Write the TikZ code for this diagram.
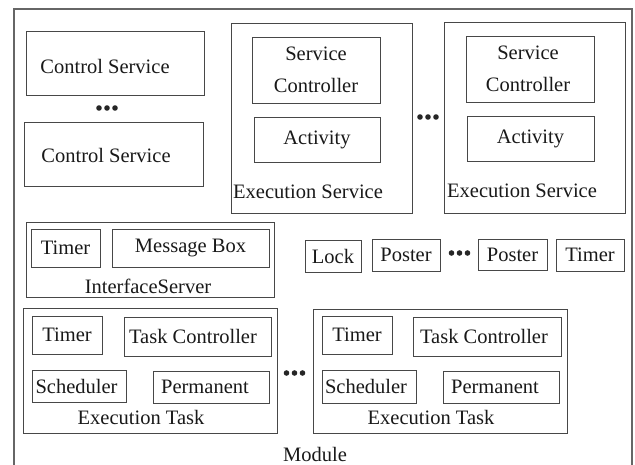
\documentclass[tikz,border=0pt]{standalone}
\usepackage{fontspec}
\setmainfont{Liberation Serif}
\begin{document}
\begin{tikzpicture}[x=1pt,y=-1pt,
  box/.style={draw=black!72, line width=0.9pt, inner sep=0pt, font=\fontsize{20.5}{32}\selectfont, text=black!90},
  txt/.style={inner sep=0pt, font=\fontsize{20.5}{32}\selectfont, text=black!90},
  ellipsis/.pic={\foreach \dx in {-8,0,8} \fill[black!85] (\dx,0) circle (2.8);}]
\useasboundingbox (0,0) rectangle (635,465);

% box helper: name, x1, y1, x2, y2, text
\newcommand{\bxat}[6]{%
  \node[box, minimum width={#4-#2}, minimum height={#5-#3}] (#1) at ({(#2+#4)/2},{(#3+#5)/2}) {#6};}

% module frame (open at the bottom edge)
\coordinate (mbl) at (14,466);
\coordinate (mtl) at (14,9);
\coordinate (mtr) at (632,9);
\coordinate (mbr) at (632,466);
\draw[black!60, line width=1.1pt] (mbl) -- (mtl) -- (mtr) -- (mbr);
\node[txt] (module) at (315,454) {Module};

% control services
\bxat{cs1}{26}{31}{204}{95}{}
\node[txt] (cs1t) at (105,66) {Control Service};
\pic at (107,108) {ellipsis};
\bxat{cs2}{24}{122}{203}{186}{}
\node[txt] (cs2t) at (106,155) {Control Service};

% execution services
\bxat{es1}{231}{23}{412}{213}{}
\bxat{sc1}{252}{37}{380}{103}{}
\node[txt, align=center] (sc1t) at (316,70) {Service\\Controller};
\bxat{ac1}{254}{117}{380}{162}{Activity}
\node[txt, anchor=west] (es1t) at (233,192) {Execution Service};
\pic at (428,117) {ellipsis};
\bxat{es2}{444}{22}{625}{213}{}
\bxat{sc2}{466}{36}{594}{102}{}
\node[txt, align=center] (sc2t) at (528,69) {Service\\Controller};
\bxat{ac2}{467}{116}{594}{161}{Activity}
\node[txt, anchor=west] (es2t) at (447,191) {Execution Service};

% interface server
\bxat{is}{26}{222}{274}{297}{}
\bxat{ist}{31}{229}{100}{267}{Timer}
\bxat{ismb}{112}{229}{269}{267}{Message Box}
\node[txt] (isl) at (148,286) {InterfaceServer};

% shared objects
\bxat{lock}{305}{240}{361}{272}{Lock}
\bxat{post1}{372}{239}{440}{271}{Poster}
\pic at (459.5,253) {ellipsis};
\bxat{post2}{478}{239}{547}{270}{Poster}
\bxat{tim}{556}{239}{624}{271}{Timer}

% execution tasks
\bxat{et1}{23}{308}{277}{433}{}
\bxat{et1tm}{32}{316}{102}{354}{Timer}
\bxat{et1tc}{124}{317}{271}{356}{}
\node[txt] (et1tct) at (193,336) {Task Controller};
\bxat{et1sc}{32}{370}{126}{402}{}
\node[txt] (et1sct) at (76.5,386) {Scheduler};
\bxat{et1pm}{153}{371}{269}{403}{}
\node[txt] (et1pmt) at (205,387) {Permanent};
\node[txt] (et1l) at (141,417) {Execution Task};
\pic at (294.5,373) {ellipsis};
\bxat{et2}{313}{309}{567}{433}{}
\bxat{et2tm}{322}{316}{392}{354}{Timer}
\bxat{et2tc}{413}{317}{561}{356}{}
\node[txt] (et2tct) at (484,336) {Task Controller};
\bxat{et2sc}{322}{370}{416}{403}{}
\node[txt] (et2sct) at (366,386) {Scheduler};
\bxat{et2pm}{443}{371}{559}{403}{}
\node[txt] (et2pmt) at (495,387) {Permanent};
\node[txt] (et2l) at (431,417) {Execution Task};
\end{tikzpicture}
\end{document}
